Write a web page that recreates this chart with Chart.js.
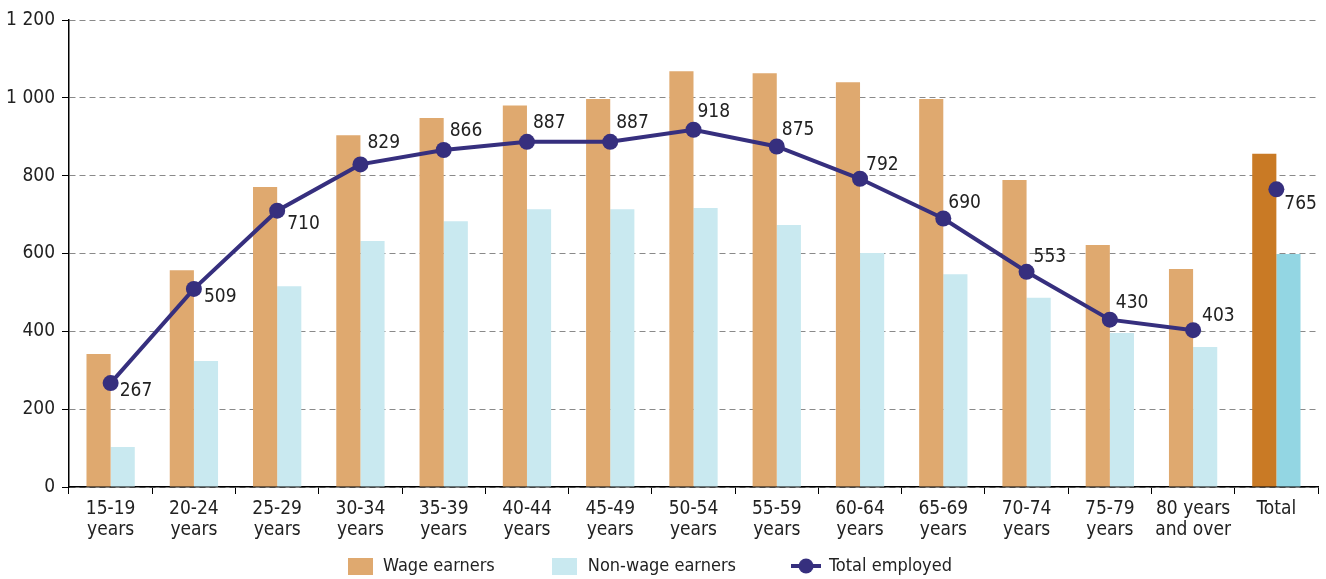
<!DOCTYPE html>
<html>
<head>
<meta charset="utf-8">
<script src="https://cdn.jsdelivr.net/npm/chart.js@4"></script>
<style>
  html, body { margin: 0; padding: 0; background: #fff; }
  #wrap { width: 1326px; height: 579px; position: relative; }
</style>
</head>
<body>
<div id="wrap"><canvas id="myChart"></canvas></div>
<script>
const categories = [['15-19', 'years'], ['20-24', 'years'], ['25-29', 'years'], ['30-34', 'years'], ['35-39', 'years'],
  ['40-44', 'years'], ['45-49', 'years'], ['50-54', 'years'], ['55-59', 'years'], ['60-64', 'years'],
  ['65-69', 'years'], ['70-74', 'years'], ['75-79', 'years'], ['80 years', 'and over'], 'Total'];
const wageEarners = [342, 557, 771, 904, 948, 980, 997, 1068, 1063, 1040, 997, 789, 622, 560, 856];
const nonWageEarners = [103, 324, 516, 632, 683, 714, 714, 717, 673, 601, 547, 486, 396, 360, 599];
const totalEmployed = [267, 509, 710, 829, 866, 887, 887, 918, 875, 792, 690, 553, 430, 403, 765];
const yTicks = [0, 200, 400, 600, 800, 1000, 1200];

// label placement next to each point (dx, dy in px)
const labelOffsets = [[9, 8], [10, 8], [10, 13], [7, -21], [6, -19], [6, -19], [6, -19], [4, -18],
  [5, -16], [6, -14], [5, -15], [7, -15], [6, -17], [9, -14], [8, 15]];

const FONT = "'Liberation Sans Narrow', 'DejaVu Sans Condensed', sans-serif";
const TEXT = '#222';
const WAGE = '#dfa96f', WAGE_TOTAL = '#c97a25';
const NONWAGE = '#c9e9f0', NONWAGE_TOTAL = '#93d6e3';
const LINE = '#362f7e';
const LEGEND_PAD = 56;
const LEGEND_H = 39;

const lastIdx = categories.length - 1;
const wageColors = categories.map((c, i) => i === lastIdx ? WAGE_TOTAL : WAGE);
const nonWageColors = categories.map((c, i) => i === lastIdx ? NONWAGE_TOTAL : NONWAGE);

function boxIcon(color){
  const c = document.createElement('canvas');
  c.width = 25; c.height = 17;
  const g = c.getContext('2d');
  g.fillStyle = color;
  g.fillRect(0, 0, 25, 17);
  return c;
}
function lineIcon(){
  const c = document.createElement('canvas');
  c.width = 30; c.height = 16;
  const g = c.getContext('2d');
  g.strokeStyle = LINE; g.lineWidth = 4;
  g.beginPath(); g.moveTo(0, 8); g.lineTo(30, 8); g.stroke();
  g.fillStyle = LINE;
  g.beginPath(); g.arc(15, 8, 7.5, 0, Math.PI * 2); g.fill();
  return c;
}
const icons = [boxIcon(WAGE), boxIcon(NONWAGE), lineIcon()];

const pointLabels = {
  id: 'pointLabels',
  afterDatasetsDraw(chart){
    const ctx = chart.ctx;
    const meta = chart.getDatasetMeta(2);
    ctx.save();
    ctx.font = '19px ' + FONT;
    ctx.fillStyle = TEXT;
    ctx.textAlign = 'left';
    ctx.textBaseline = 'middle';
    meta.data.forEach((pt, i) => {
      const off = labelOffsets[i];
      ctx.fillText(String(totalEmployed[i]), pt.x + off[0], pt.y + off[1]);
    });
    ctx.restore();
  }
};

// legend: wide gaps between items but a short box, nudged a little left
const legendTweak = {
  id: 'legendTweak',
  beforeLayout(chart){
    const lg = chart.legend;
    if (!lg || lg._tweaked) return;
    lg._tweaked = true;
    const fit = lg.fit;
    lg.fit = function(){
      fit.call(this);
      this.height = LEGEND_H;
    };
    const draw = lg.draw;
    lg.draw = function(){
      const saved = [this.left, this.right, this.top, this.bottom];
      this.left -= 10;
      this.right -= 10;
      this.top = 566 - LEGEND_PAD - 9;
      this.bottom = this.top + 120;
      draw.call(this);
      [this.left, this.right, this.top, this.bottom] = saved;
    };
  }
};

function fmt(v){
  return String(v).replace(/\B(?=(\d{3})+(?!\d))/g, ' ');
}

const ctx = document.getElementById('myChart').getContext('2d');
const myChart = new Chart(ctx, {
  type: 'bar',
  data: {
    labels: categories,
    datasets: [{
      label: 'Wage earners',
      data: wageEarners,
      backgroundColor: wageColors,
      categoryPercentage: 0.58,
      barPercentage: 1,
      order: 2
    }, {
      label: 'Non-wage earners',
      data: nonWageEarners,
      backgroundColor: nonWageColors,
      categoryPercentage: 0.58,
      barPercentage: 1,
      order: 2
    }, {
      type: 'line',
      label: 'Total employed',
      data: totalEmployed,
      borderColor: LINE,
      backgroundColor: LINE,
      borderWidth: 4,
      pointRadius: 8,
      pointHoverRadius: 8,
      pointBackgroundColor: LINE,
      pointBorderWidth: 0,
      tension: 0,
      segment: {
        borderColor: c => c.p0DataIndex === lastIdx - 1 ? 'rgba(0,0,0,0)' : LINE
      },
      order: 1
    }]
  },
  options: {
    responsive: true,
    maintainAspectRatio: false,
    animation: false,
    layout: { padding: { top: 20, right: 8, left: 0, bottom: 0 } },
    plugins: {
      tooltip: { enabled: false },
      legend: {
        position: 'bottom',
        labels: {
          font: { family: FONT, size: 18 },
          color: TEXT,
          usePointStyle: true,
          pointStyleWidth: 28,
          boxHeight: 17,
          padding: LEGEND_PAD,
          generateLabels(chart){
            return chart.data.datasets.map((ds, i) => ({
              text: ds.label,
              pointStyle: icons[i],
              fillStyle: 'rgba(0,0,0,0)',
              strokeStyle: 'rgba(0,0,0,0)',
              lineWidth: 0,
              datasetIndex: i,
              fontColor: TEXT
            }));
          }
        }
      }
    },
    scales: {
      x: {
        afterFit(scale){
          scale.height = 579 - 487 - LEGEND_H;
        },
        grid: {
          offset: true,
          drawOnChartArea: false,
          tickLength: 7,
          color: '#000',
          tickColor: '#000'
        },
        border: { color: '#000', width: 1.5 },
        ticks: {
          font: { family: FONT, size: 19, lineHeight: 1.1 },
          color: TEXT,
          maxRotation: 0,
          autoSkip: false,
          padding: 5
        }
      },
      y: {
        min: 0,
        max: 1200,
        afterBuildTicks(scale){
          scale.ticks = yTicks.map(v => ({ value: v }));
        },
        afterFit(scale){
          scale.width = 69;
        },
        grid: {
          color: '#8a8a8a',
          tickColor: '#000',
          tickLength: 7,
          lineWidth: 1
        },
        border: { color: '#000', width: 1.5, dash: [6, 4] },
        ticks: {
          font: { family: FONT, size: 19 },
          color: TEXT,
          padding: 7,
          callback: v => fmt(v)
        }
      }
    }
  },
  plugins: [pointLabels, legendTweak]
});
</script>
</body>
</html>
